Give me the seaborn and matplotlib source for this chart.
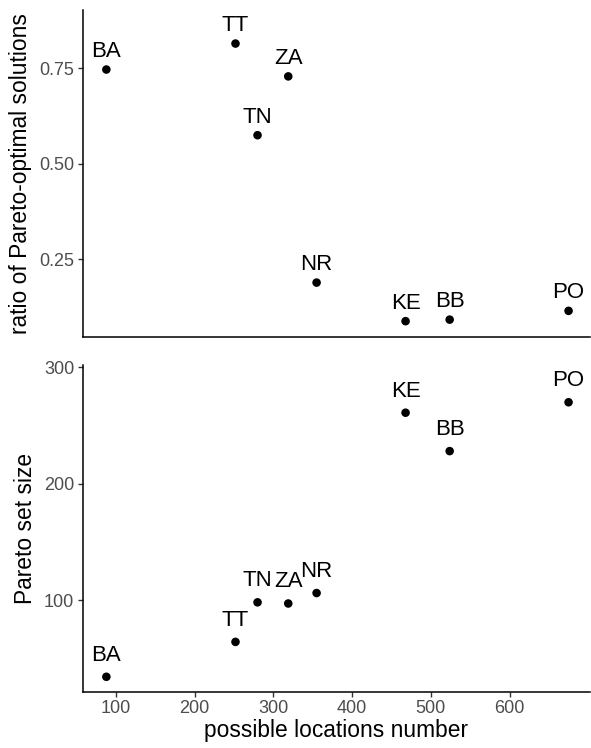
import matplotlib
matplotlib.use("Agg")
import matplotlib.pyplot as plt
import seaborn as sns
import pandas as pd

# Instances and their measurements
codes = ["BA", "TT", "TN", "ZA", "NR", "KE", "BB", "PO"]
locations = [88, 252, 280, 319, 355, 468, 524, 675]
pareto_ratio = [0.747, 0.815, 0.575, 0.729, 0.189, 0.088, 0.092, 0.115]
pareto_size = [34, 64, 98, 97, 106, 261, 228, 270]

df = pd.DataFrame({"code": codes, "locations": locations,
                   "ratio": pareto_ratio, "size": pareto_size})

sns.set_style("ticks")
plt.rcParams["font.family"] = ["Liberation Sans", "DejaVu Sans"]

fig = plt.figure(figsize=(5.91, 7.48), dpi=100)
ax_top = fig.add_axes([0.14, 0.5495, 0.858, 0.437])
ax_bot = fig.add_axes([0.14, 0.0753, 0.858, 0.4367])

panels = [
    (ax_top, "ratio", "ratio of Pareto-optimal solutions", 0.047, (0.0466, 0.9026),
     [0.25, 0.50, 0.75], ["0.25", "0.50", "0.75"]),
    (ax_bot, "size", "Pareto set size", 18.5, (21.2, 302),
     [100, 200, 300], ["100", "200", "300"]),
]

for ax, col, ylabel, nudge, ylim, yticks, yticklabels in panels:
    sns.scatterplot(data=df, x="locations", y=col, ax=ax, color="black",
                    s=38, edgecolor="none", linewidth=0)
    for _, r in df.iterrows():
        ax.text(r["locations"], r[col] + nudge, r["code"], ha="center",
                va="center", fontsize=16, color="black")
    ax.set_xlim(58, 702)
    ax.set_ylim(*ylim)
    ax.set_yticks(yticks)
    ax.set_yticklabels(yticklabels)
    ax.set_xticks([100, 200, 300, 400, 500, 600])
    ax.set_ylabel(ylabel, fontsize=16.4, color="black", labelpad=5)
    ax.tick_params(axis="both", labelsize=13, labelcolor="#4D4D4D",
                   length=3.6, width=1.0, color="#333333", pad=2.5)
    sns.despine(ax=ax)
    for side in ("left", "bottom"):
        ax.spines[side].set_linewidth(1.1)
        ax.spines[side].set_color("black")

# Upper panel shares the x scale but shows no ticks or labels on it
ax_top.set_xlabel("")
ax_top.tick_params(axis="x", length=0, labelbottom=False)
ax_bot.set_xlabel("possible locations number", fontsize=16.4, color="black",
                  labelpad=1)

fig.savefig("out.png", dpi=100)
